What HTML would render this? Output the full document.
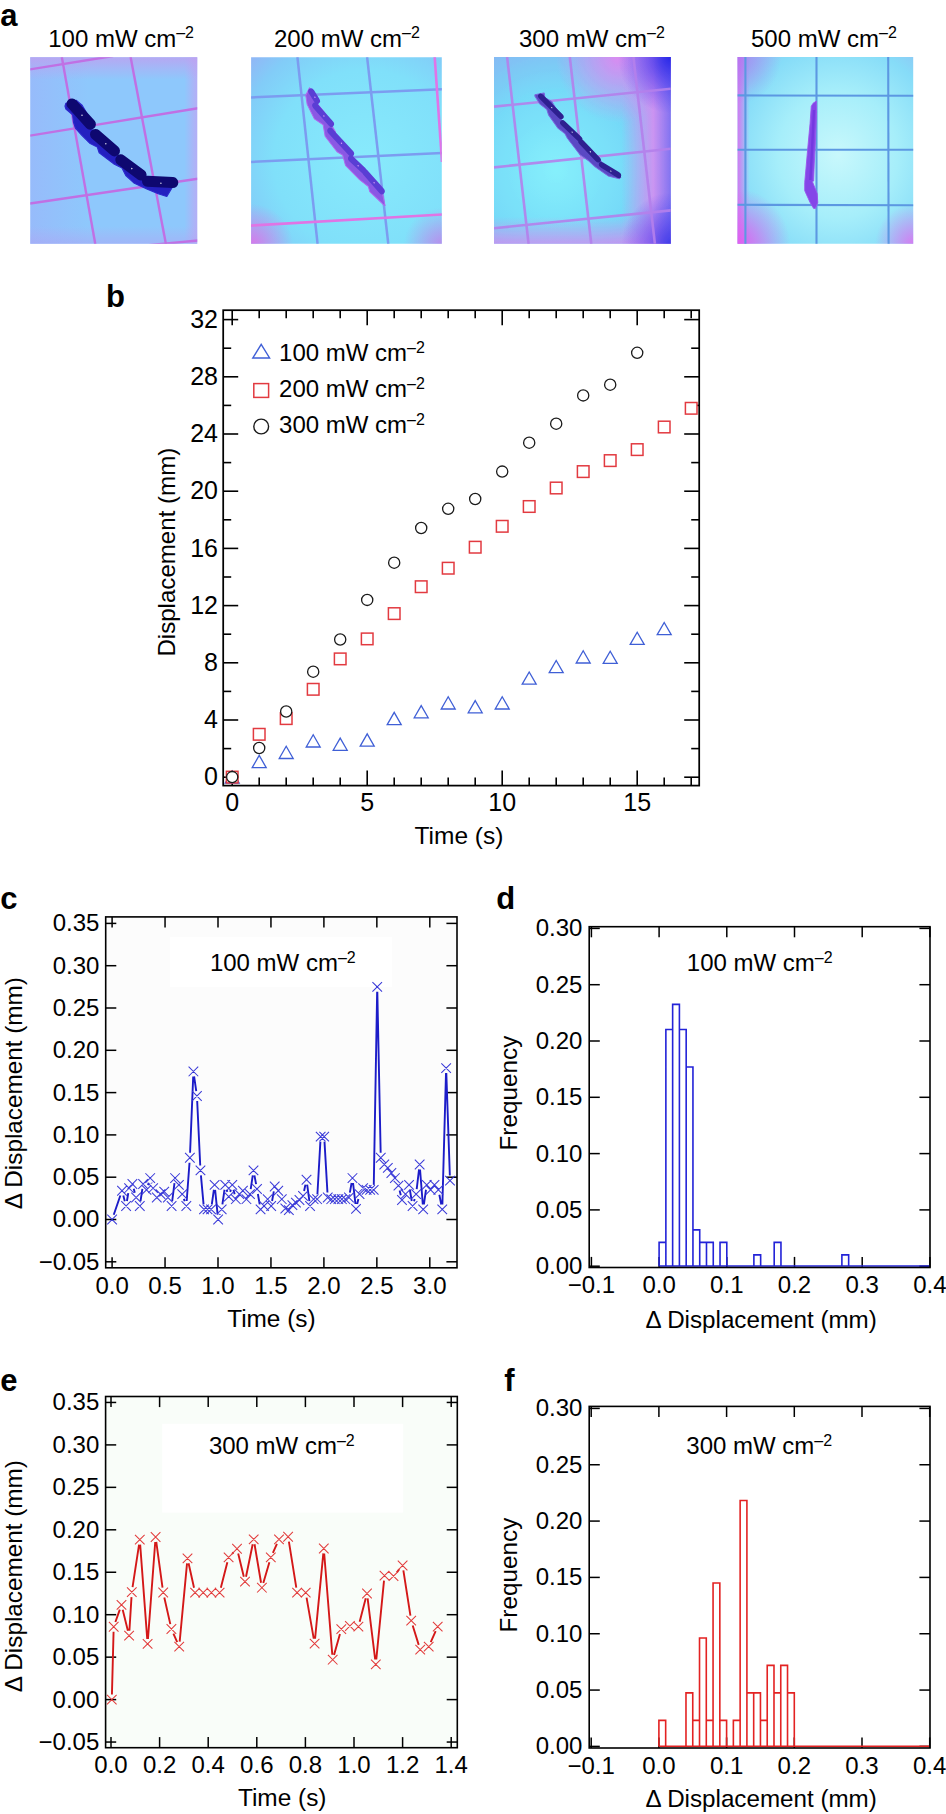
<!DOCTYPE html><html><head><meta charset="utf-8"><style>html,body{margin:0;padding:0;background:#fff;overflow:hidden;}svg{display:block;}text{font-family:"Liberation Sans",sans-serif;fill:#000;}</style></head><body>
<svg width="946" height="1814" viewBox="0 0 946 1814">
<rect width="946" height="1814" fill="#fff"/>
<defs>
<linearGradient id="p1l" x1="0" y1="0" x2="1" y2="0"><stop offset="0" stop-color="#a4a8f8" stop-opacity="0.4"/><stop offset="0.35" stop-color="#a4a8f8" stop-opacity="0"/><stop offset="0.92" stop-color="#c8a0f2" stop-opacity="0"/><stop offset="1" stop-color="#c8a0f2" stop-opacity="0.7"/></linearGradient>
<linearGradient id="p1t" x1="0" y1="0" x2="0" y2="1"><stop offset="0" stop-color="#c0a0f0" stop-opacity="0.8"/><stop offset="0.12" stop-color="#c0a0f0" stop-opacity="0"/><stop offset="0.9" stop-color="#c0a0f0" stop-opacity="0"/><stop offset="1" stop-color="#b0a0f4" stop-opacity="0.5"/></linearGradient>
<radialGradient id="p2b" cx="0.6" cy="0.55" r="0.8"><stop offset="0" stop-color="#88eafc"/><stop offset="0.6" stop-color="#80e0fa"/><stop offset="0.85" stop-color="#82ccf8"/><stop offset="1" stop-color="#90b8f6"/></radialGradient>
<radialGradient id="p2c" cx="0" cy="1" r="0.22"><stop offset="0" stop-color="#e070e8" stop-opacity="0.9"/><stop offset="1" stop-color="#e070e8" stop-opacity="0"/></radialGradient>
<radialGradient id="p2d" cx="1" cy="1" r="0.2"><stop offset="0" stop-color="#d070e8" stop-opacity="0.7"/><stop offset="1" stop-color="#d070e8" stop-opacity="0"/></radialGradient>
<radialGradient id="p3b" cx="0.35" cy="0.6" r="0.85"><stop offset="0" stop-color="#86f0fc"/><stop offset="0.5" stop-color="#76daf8"/><stop offset="0.8" stop-color="#84bcf4"/><stop offset="1" stop-color="#9caaf0"/></radialGradient><linearGradient id="p3bt" x1="0" y1="0" x2="0" y2="1"><stop offset="0.85" stop-color="#e080ee" stop-opacity="0"/><stop offset="1" stop-color="#e080ee" stop-opacity="0.7"/></linearGradient><radialGradient id="p3tp" cx="0.7" cy="0" r="0.35"><stop offset="0" stop-color="#e884f0" stop-opacity="0.85"/><stop offset="1" stop-color="#e884f0" stop-opacity="0"/></radialGradient>
<radialGradient id="p3c" cx="1" cy="0" r="0.3"><stop offset="0" stop-color="#2828e8" stop-opacity="1"/><stop offset="1" stop-color="#4040f0" stop-opacity="0"/></radialGradient>
<radialGradient id="p3d" cx="1" cy="1" r="0.28"><stop offset="0" stop-color="#3838e8" stop-opacity="0.9"/><stop offset="1" stop-color="#4040f0" stop-opacity="0"/></radialGradient>
<linearGradient id="p3t" x1="0" y1="0" x2="0" y2="1"><stop offset="0" stop-color="#e080f0" stop-opacity="0.6"/><stop offset="0.15" stop-color="#e080f0" stop-opacity="0"/></linearGradient><linearGradient id="p3r" x1="0" y1="0" x2="1" y2="0"><stop offset="0.72" stop-color="#e484f0" stop-opacity="0"/><stop offset="0.9" stop-color="#e484f0" stop-opacity="0.75"/><stop offset="1" stop-color="#8060f0" stop-opacity="0.8"/></linearGradient>
<radialGradient id="p4b" cx="0.57" cy="0.52" r="0.75"><stop offset="0" stop-color="#c8f8fc"/><stop offset="0.45" stop-color="#a6eefa"/><stop offset="0.78" stop-color="#86dcf8"/><stop offset="1" stop-color="#90c0f4"/></radialGradient>
<linearGradient id="p4l" x1="0" y1="0" x2="1" y2="0"><stop offset="0" stop-color="#d870f0" stop-opacity="0.95"/><stop offset="0.07" stop-color="#d870f0" stop-opacity="0"/></linearGradient>
<radialGradient id="p4c" cx="0" cy="1" r="0.3"><stop offset="0" stop-color="#e060f0" stop-opacity="1"/><stop offset="1" stop-color="#e060f0" stop-opacity="0"/></radialGradient>
<radialGradient id="p4d" cx="1" cy="1" r="0.22"><stop offset="0" stop-color="#e070f0" stop-opacity="0.9"/><stop offset="1" stop-color="#e070f0" stop-opacity="0"/></radialGradient>
<radialGradient id="p4e" cx="0" cy="0" r="0.25"><stop offset="0" stop-color="#b070f0" stop-opacity="0.7"/><stop offset="1" stop-color="#b070f0" stop-opacity="0"/></radialGradient>
<clipPath id="c1"><rect x="30.3" y="57.2" width="166.9" height="186.5"/></clipPath>
<clipPath id="c2"><rect x="251.1" y="57.3" width="190.7" height="186.4"/></clipPath>
<clipPath id="c3"><rect x="494" y="57" width="176.8" height="186.8"/></clipPath>
<clipPath id="c4"><rect x="737.6" y="57" width="175.6" height="186.8"/></clipPath>
</defs>
<g clip-path="url(#c1)">
<rect x="30" y="57" width="168" height="188" fill="#8ec8fc"/>
<rect x="30" y="57" width="168" height="188" fill="url(#p1l)"/>
<rect x="30" y="57" width="168" height="188" fill="url(#p1t)"/>
<g stroke="#c070e4" stroke-width="2.4" fill="none">
<line x1="61.8" y1="57" x2="95.3" y2="244"/>
<line x1="130.6" y1="57" x2="165.9" y2="244"/>
<line x1="30" y1="69.4" x2="113" y2="56"/>
<line x1="30" y1="135.6" x2="198" y2="108.2"/>
<line x1="30" y1="203.5" x2="198" y2="178.8"/>
<line x1="140" y1="246" x2="198" y2="240.5"/>
</g>
<path d="M65.9 103.3 L76.4 100.4 L82.1 105.2 L87.8 114.7 L93.5 124.2 L91.6 129.9 L98.3 131.8 L104.9 139.4 L114.4 148.9 L116.3 156.6 L123.9 157.5 L131.6 164.2 L141.1 171.8 L143.0 179.4 L150.6 179.4 L158.2 181.3 L175.3 181.3 L175.3 182.2 L166.8 196.5 L158.2 193.7 L146.8 188.9 L134.4 183.2 L125.8 175.6 L122.0 168.0 L114.4 164.2 L106.8 158.5 L99.2 152.7 L97.3 147.0 L89.7 143.2 L82.1 135.6 L75.4 128.0 L73.5 122.3 L72.6 114.7 L65.9 109.0 L65.0 106.1Z" fill="#2420c0" stroke="#2c28cc" stroke-width="1.2" stroke-linejoin="round"/><path d="M72.0 103.9L90.4 124.2M95.5 134.4L114.5 150.9M120.8 159.8L141.1 175.0M147.5 181.3L172.8 182.6" stroke="#0e0870" stroke-width="11" stroke-linecap="round" fill="none"/><circle cx="82.0" cy="115.2" r="0.8" fill="#ffffff" opacity="0.8"/><circle cx="105.8" cy="143.8" r="0.8" fill="#ffffff" opacity="0.8"/><circle cx="131.8" cy="168.6" r="0.8" fill="#ffffff" opacity="0.8"/><circle cx="160.9" cy="183.2" r="0.8" fill="#ffffff" opacity="0.8"/>
</g>
<g clip-path="url(#c2)">
<rect x="251" y="57" width="191" height="188" fill="url(#p2b)"/>
<rect x="251" y="57" width="191" height="188" fill="url(#p2c)"/>
<rect x="251" y="57" width="191" height="188" fill="url(#p2d)"/>
<g stroke="#7c9cf0" stroke-width="2.5" fill="none">
<line x1="297.4" y1="57" x2="317.6" y2="244"/>
<line x1="367.1" y1="57" x2="388.3" y2="244"/>
<line x1="251" y1="97.4" x2="442" y2="89.3"/>
<line x1="251" y1="162" x2="442" y2="152.9"/>
</g>
<line x1="251" y1="225.6" x2="442" y2="214.5" stroke="#e074e4" stroke-width="2.6"/>
<line x1="434.7" y1="57" x2="442" y2="162" stroke="#e074e8" stroke-width="2.6"/>
<g transform="translate(345 148) rotate(56.54049774660934) scale(1 0.8) rotate(-56.54049774660934) translate(-345 -148)"><path d="M305.0 95.9 L310.3 87.4 L317.7 94.8 L318.3 104.3 L324.6 111.7 L335.7 131.8 L335.2 137.6 L341.5 140.3 L356.3 160.3 L357.4 165.6 L363.7 167.7 L382.7 184.7 L385.4 205.3 L383.8 204.7 L369.0 192.0 L368.0 186.8 L358.4 180.4 L343.6 166.7 L341.5 156.1 L335.2 152.9 L323.0 137.6 L322.0 125.5 L312.4 120.2 L305.6 105.4Z" fill="#8a58e4" stroke="#b068ec" stroke-width="1.2" stroke-linejoin="round"/><path d="M312.1 91.5L317.3 99.9M315.2 106.3L331.1 123.2M330.0 131.7L351.2 152.8M351.2 159.1L363.9 169.7M366.0 171.8L382.9 189.8" stroke="#5a3ed4" stroke-width="7.5" stroke-linecap="round" fill="none"/><circle cx="315.5" cy="96.9" r="0.8" fill="#f0b0ff" opacity="0.8"/><circle cx="323.9" cy="116.0" r="0.8" fill="#f0b0ff" opacity="0.8"/><circle cx="341.4" cy="143.4" r="0.8" fill="#f0b0ff" opacity="0.8"/><circle cx="358.4" cy="165.6" r="0.8" fill="#f0b0ff" opacity="0.8"/><circle cx="375.2" cy="182.0" r="0.8" fill="#f0b0ff" opacity="0.8"/>
</g></g>
<g clip-path="url(#c3)">
<rect x="494" y="57" width="177" height="188" fill="url(#p3b)"/>
<rect x="494" y="57" width="177" height="188" fill="url(#p3tp)"/>
<rect x="494" y="57" width="177" height="188" fill="url(#p3bt)"/>
<rect x="494" y="57" width="177" height="188" fill="url(#p3r)"/>
<rect x="494" y="57" width="177" height="188" fill="url(#p3c)"/>
<rect x="494" y="57" width="177" height="188" fill="url(#p3d)"/>
<g stroke="#b480ec" stroke-width="2.6" fill="none" opacity="0.9">
<line x1="507.1" y1="57" x2="528.6" y2="244"/>
<line x1="569.8" y1="57" x2="591.3" y2="244"/>
<line x1="633.4" y1="57" x2="654.9" y2="244"/>
<line x1="494" y1="106.6" x2="671" y2="88.8"/>
<line x1="494" y1="167.4" x2="671" y2="148.7"/>
<line x1="494" y1="228.2" x2="671" y2="210.4"/>
</g>
<g transform="translate(578 135.5) rotate(44.7) scale(1 0.72) rotate(-44.7) translate(-578 -135.5)"><path d="M534.8 95.0 L545.9 91.3 L545.9 96.6 L553.3 99.8 L561.7 116.7 L560.7 123.1 L567.0 124.1 L580.7 142.1 L582.9 146.3 L589.2 147.4 L600.8 162.2 L602.9 168.5 L608.2 168.5 L620.9 177.0 L618.8 179.1 L606.1 178.0 L592.4 169.6 L585.0 163.2 L576.5 157.9 L564.9 141.0 L562.8 135.7 L555.4 130.5 L546.9 116.7 L545.9 110.4 L538.5 105.1 L534.2 96.6Z" fill="#5a48c4" stroke="#7a64dc" stroke-width="1.2" stroke-linejoin="round"/><path d="M541.8 96.5L560.8 115.5M562.9 124.0L578.8 138.8M580.9 143.0L596.7 159.9M601.0 166.3L617.9 174.7" stroke="#2e2090" stroke-width="7.5" stroke-linecap="round" fill="none"/><circle cx="552.1" cy="107.2" r="0.8" fill="#ffffff" opacity="0.8"/><circle cx="571.7" cy="132.6" r="0.8" fill="#ffffff" opacity="0.8"/><circle cx="589.6" cy="152.6" r="0.8" fill="#ffffff" opacity="0.8"/><circle cx="610.2" cy="171.7" r="0.8" fill="#ffffff" opacity="0.8"/>
</g></g>
<g clip-path="url(#c4)">
<rect x="737" y="57" width="177" height="188" fill="url(#p4b)"/>
<rect x="737" y="57" width="177" height="188" fill="url(#p4l)"/>
<rect x="737" y="57" width="177" height="188" fill="url(#p4c)"/>
<rect x="737" y="57" width="177" height="188" fill="url(#p4d)"/>
<rect x="737" y="57" width="177" height="188" fill="url(#p4e)"/>
<g stroke="#5c98e2" stroke-width="2.1" fill="none">
<line x1="745.4" y1="57" x2="745.4" y2="244"/>
<line x1="816.5" y1="57" x2="816.5" y2="244"/>
<line x1="888.2" y1="57" x2="888.6" y2="244"/>
<line x1="737" y1="95.4" x2="914" y2="95.8"/>
<line x1="737" y1="149.7" x2="914" y2="149.7"/>
<line x1="737" y1="204.8" x2="914" y2="205.2"/>
</g>
<g transform="translate(812 0) scale(0.8 1) translate(-812 0)"><path d="M817.4 101.1 L817.7 112.2 L816.3 141.8 L814.8 164.0 L814.0 181.0 L812.6 181.8 L818.5 193.6 L819.2 202.5 L816.3 208.4 L814.0 208.4 L809.6 202.5 L802.9 190.7 L802.9 182.5 L806.6 149.2 L809.6 123.3 L811.1 106.3 L813.3 103.3Z" fill="#8446e8" stroke="#9a56ec" stroke-width="1" stroke-linejoin="round"/><path d="M814.5 110L812 150L810 180" stroke="#7438e0" stroke-width="3" fill="none"/>
</g></g>
<text x="0.3" y="25.8" font-size="31" text-anchor="start" font-weight="bold" >a</text>
<text x="48.2" y="46.5" font-size="24" text-anchor="start">100 mW cm<tspan font-size="16" dy="-8.5">–2</tspan></text>
<text x="274" y="46.5" font-size="24" text-anchor="start">200 mW cm<tspan font-size="16" dy="-8.5">–2</tspan></text>
<text x="519" y="46.5" font-size="24" text-anchor="start">300 mW cm<tspan font-size="16" dy="-8.5">–2</tspan></text>
<text x="751" y="46.5" font-size="24" text-anchor="start">500 mW cm<tspan font-size="16" dy="-8.5">–2</tspan></text>
<text x="106" y="306.5" font-size="31" text-anchor="start" font-weight="bold" >b</text>
<line x1="232.2" y1="785.6" x2="232.2" y2="770.6" stroke="#000" stroke-width="1.6" />
<line x1="232.2" y1="310.2" x2="232.2" y2="325.2" stroke="#000" stroke-width="1.6" />
<line x1="259.2" y1="785.6" x2="259.2" y2="777.6" stroke="#000" stroke-width="1.6" />
<line x1="259.2" y1="310.2" x2="259.2" y2="318.2" stroke="#000" stroke-width="1.6" />
<line x1="286.2" y1="785.6" x2="286.2" y2="777.6" stroke="#000" stroke-width="1.6" />
<line x1="286.2" y1="310.2" x2="286.2" y2="318.2" stroke="#000" stroke-width="1.6" />
<line x1="313.2" y1="785.6" x2="313.2" y2="777.6" stroke="#000" stroke-width="1.6" />
<line x1="313.2" y1="310.2" x2="313.2" y2="318.2" stroke="#000" stroke-width="1.6" />
<line x1="340.2" y1="785.6" x2="340.2" y2="777.6" stroke="#000" stroke-width="1.6" />
<line x1="340.2" y1="310.2" x2="340.2" y2="318.2" stroke="#000" stroke-width="1.6" />
<line x1="367.2" y1="785.6" x2="367.2" y2="770.6" stroke="#000" stroke-width="1.6" />
<line x1="367.2" y1="310.2" x2="367.2" y2="325.2" stroke="#000" stroke-width="1.6" />
<line x1="394.2" y1="785.6" x2="394.2" y2="777.6" stroke="#000" stroke-width="1.6" />
<line x1="394.2" y1="310.2" x2="394.2" y2="318.2" stroke="#000" stroke-width="1.6" />
<line x1="421.2" y1="785.6" x2="421.2" y2="777.6" stroke="#000" stroke-width="1.6" />
<line x1="421.2" y1="310.2" x2="421.2" y2="318.2" stroke="#000" stroke-width="1.6" />
<line x1="448.2" y1="785.6" x2="448.2" y2="777.6" stroke="#000" stroke-width="1.6" />
<line x1="448.2" y1="310.2" x2="448.2" y2="318.2" stroke="#000" stroke-width="1.6" />
<line x1="475.2" y1="785.6" x2="475.2" y2="777.6" stroke="#000" stroke-width="1.6" />
<line x1="475.2" y1="310.2" x2="475.2" y2="318.2" stroke="#000" stroke-width="1.6" />
<line x1="502.2" y1="785.6" x2="502.2" y2="770.6" stroke="#000" stroke-width="1.6" />
<line x1="502.2" y1="310.2" x2="502.2" y2="325.2" stroke="#000" stroke-width="1.6" />
<line x1="529.2" y1="785.6" x2="529.2" y2="777.6" stroke="#000" stroke-width="1.6" />
<line x1="529.2" y1="310.2" x2="529.2" y2="318.2" stroke="#000" stroke-width="1.6" />
<line x1="556.2" y1="785.6" x2="556.2" y2="777.6" stroke="#000" stroke-width="1.6" />
<line x1="556.2" y1="310.2" x2="556.2" y2="318.2" stroke="#000" stroke-width="1.6" />
<line x1="583.2" y1="785.6" x2="583.2" y2="777.6" stroke="#000" stroke-width="1.6" />
<line x1="583.2" y1="310.2" x2="583.2" y2="318.2" stroke="#000" stroke-width="1.6" />
<line x1="610.2" y1="785.6" x2="610.2" y2="777.6" stroke="#000" stroke-width="1.6" />
<line x1="610.2" y1="310.2" x2="610.2" y2="318.2" stroke="#000" stroke-width="1.6" />
<line x1="637.2" y1="785.6" x2="637.2" y2="770.6" stroke="#000" stroke-width="1.6" />
<line x1="637.2" y1="310.2" x2="637.2" y2="325.2" stroke="#000" stroke-width="1.6" />
<line x1="664.2" y1="785.6" x2="664.2" y2="777.6" stroke="#000" stroke-width="1.6" />
<line x1="664.2" y1="310.2" x2="664.2" y2="318.2" stroke="#000" stroke-width="1.6" />
<line x1="691.2" y1="785.6" x2="691.2" y2="777.6" stroke="#000" stroke-width="1.6" />
<line x1="691.2" y1="310.2" x2="691.2" y2="318.2" stroke="#000" stroke-width="1.6" />
<line x1="223.2" y1="777.2" x2="238.2" y2="777.2" stroke="#000" stroke-width="1.6" />
<line x1="699.2" y1="777.2" x2="684.2" y2="777.2" stroke="#000" stroke-width="1.6" />
<line x1="223.2" y1="748.6" x2="231.2" y2="748.6" stroke="#000" stroke-width="1.6" />
<line x1="699.2" y1="748.6" x2="691.2" y2="748.6" stroke="#000" stroke-width="1.6" />
<line x1="223.2" y1="720" x2="238.2" y2="720" stroke="#000" stroke-width="1.6" />
<line x1="699.2" y1="720" x2="684.2" y2="720" stroke="#000" stroke-width="1.6" />
<line x1="223.2" y1="691.4" x2="231.2" y2="691.4" stroke="#000" stroke-width="1.6" />
<line x1="699.2" y1="691.4" x2="691.2" y2="691.4" stroke="#000" stroke-width="1.6" />
<line x1="223.2" y1="662.8" x2="238.2" y2="662.8" stroke="#000" stroke-width="1.6" />
<line x1="699.2" y1="662.8" x2="684.2" y2="662.8" stroke="#000" stroke-width="1.6" />
<line x1="223.2" y1="634.2" x2="231.2" y2="634.2" stroke="#000" stroke-width="1.6" />
<line x1="699.2" y1="634.2" x2="691.2" y2="634.2" stroke="#000" stroke-width="1.6" />
<line x1="223.2" y1="605.6" x2="238.2" y2="605.6" stroke="#000" stroke-width="1.6" />
<line x1="699.2" y1="605.6" x2="684.2" y2="605.6" stroke="#000" stroke-width="1.6" />
<line x1="223.2" y1="577" x2="231.2" y2="577" stroke="#000" stroke-width="1.6" />
<line x1="699.2" y1="577" x2="691.2" y2="577" stroke="#000" stroke-width="1.6" />
<line x1="223.2" y1="548.4" x2="238.2" y2="548.4" stroke="#000" stroke-width="1.6" />
<line x1="699.2" y1="548.4" x2="684.2" y2="548.4" stroke="#000" stroke-width="1.6" />
<line x1="223.2" y1="519.8" x2="231.2" y2="519.8" stroke="#000" stroke-width="1.6" />
<line x1="699.2" y1="519.8" x2="691.2" y2="519.8" stroke="#000" stroke-width="1.6" />
<line x1="223.2" y1="491.2" x2="238.2" y2="491.2" stroke="#000" stroke-width="1.6" />
<line x1="699.2" y1="491.2" x2="684.2" y2="491.2" stroke="#000" stroke-width="1.6" />
<line x1="223.2" y1="462.6" x2="231.2" y2="462.6" stroke="#000" stroke-width="1.6" />
<line x1="699.2" y1="462.6" x2="691.2" y2="462.6" stroke="#000" stroke-width="1.6" />
<line x1="223.2" y1="434" x2="238.2" y2="434" stroke="#000" stroke-width="1.6" />
<line x1="699.2" y1="434" x2="684.2" y2="434" stroke="#000" stroke-width="1.6" />
<line x1="223.2" y1="405.4" x2="231.2" y2="405.4" stroke="#000" stroke-width="1.6" />
<line x1="699.2" y1="405.4" x2="691.2" y2="405.4" stroke="#000" stroke-width="1.6" />
<line x1="223.2" y1="376.8" x2="238.2" y2="376.8" stroke="#000" stroke-width="1.6" />
<line x1="699.2" y1="376.8" x2="684.2" y2="376.8" stroke="#000" stroke-width="1.6" />
<line x1="223.2" y1="348.2" x2="231.2" y2="348.2" stroke="#000" stroke-width="1.6" />
<line x1="699.2" y1="348.2" x2="691.2" y2="348.2" stroke="#000" stroke-width="1.6" />
<line x1="223.2" y1="319.6" x2="238.2" y2="319.6" stroke="#000" stroke-width="1.6" />
<line x1="699.2" y1="319.6" x2="684.2" y2="319.6" stroke="#000" stroke-width="1.6" />
<rect x="223.2" y="310.2" width="476" height="475.4" fill="none" stroke="#000" stroke-width="1.75"/>
<text x="218" y="785.4" font-size="25" text-anchor="end" font-weight="normal" >0</text>
<text x="218" y="728.2" font-size="25" text-anchor="end" font-weight="normal" >4</text>
<text x="218" y="671" font-size="25" text-anchor="end" font-weight="normal" >8</text>
<text x="218" y="613.8" font-size="25" text-anchor="end" font-weight="normal" >12</text>
<text x="218" y="556.6" font-size="25" text-anchor="end" font-weight="normal" >16</text>
<text x="218" y="499.4" font-size="25" text-anchor="end" font-weight="normal" >20</text>
<text x="218" y="442.2" font-size="25" text-anchor="end" font-weight="normal" >24</text>
<text x="218" y="385" font-size="25" text-anchor="end" font-weight="normal" >28</text>
<text x="218" y="327.8" font-size="25" text-anchor="end" font-weight="normal" >32</text>
<text x="232.2" y="811.2" font-size="25" text-anchor="middle" font-weight="normal" >0</text>
<text x="367.2" y="811.2" font-size="25" text-anchor="middle" font-weight="normal" >5</text>
<text x="502.2" y="811.2" font-size="25" text-anchor="middle" font-weight="normal" >10</text>
<text x="637.2" y="811.2" font-size="25" text-anchor="middle" font-weight="normal" >15</text>
<text x="459" y="843.9" font-size="24.5" text-anchor="middle" font-weight="normal" >Time (s)</text>
<text transform="translate(175.1,552.2) rotate(-90)" font-size="24.1" text-anchor="middle">Displacement (mm)</text>
<path d="M232.2 771L239.2 783.2L225.2 783.2Z" fill="#fff" stroke="#3f5fd6" stroke-width="1.3" stroke-linejoin="miter"/>
<path d="M259.2 755.4L266.2 767.6L252.2 767.6Z" fill="#fff" stroke="#3f5fd6" stroke-width="1.3" stroke-linejoin="miter"/>
<path d="M286.2 746.3L293.2 758.5L279.2 758.5Z" fill="#fff" stroke="#3f5fd6" stroke-width="1.3" stroke-linejoin="miter"/>
<path d="M313.2 734.8L320.2 747L306.2 747Z" fill="#fff" stroke="#3f5fd6" stroke-width="1.3" stroke-linejoin="miter"/>
<path d="M340.2 738.1L347.2 750.3L333.2 750.3Z" fill="#fff" stroke="#3f5fd6" stroke-width="1.3" stroke-linejoin="miter"/>
<path d="M367.2 733.9L374.2 746.1L360.2 746.1Z" fill="#fff" stroke="#3f5fd6" stroke-width="1.3" stroke-linejoin="miter"/>
<path d="M394.2 712.4L401.2 724.6L387.2 724.6Z" fill="#fff" stroke="#3f5fd6" stroke-width="1.3" stroke-linejoin="miter"/>
<path d="M421.2 705.6L428.2 717.8L414.2 717.8Z" fill="#fff" stroke="#3f5fd6" stroke-width="1.3" stroke-linejoin="miter"/>
<path d="M448.2 696.8L455.2 709L441.2 709Z" fill="#fff" stroke="#3f5fd6" stroke-width="1.3" stroke-linejoin="miter"/>
<path d="M475.2 700.6L482.2 712.8L468.2 712.8Z" fill="#fff" stroke="#3f5fd6" stroke-width="1.3" stroke-linejoin="miter"/>
<path d="M502.2 696.8L509.2 709L495.2 709Z" fill="#fff" stroke="#3f5fd6" stroke-width="1.3" stroke-linejoin="miter"/>
<path d="M529.2 672L536.2 684.2L522.2 684.2Z" fill="#fff" stroke="#3f5fd6" stroke-width="1.3" stroke-linejoin="miter"/>
<path d="M556.2 660.5L563.2 672.7L549.2 672.7Z" fill="#fff" stroke="#3f5fd6" stroke-width="1.3" stroke-linejoin="miter"/>
<path d="M583.2 650.8L590.2 663L576.2 663Z" fill="#fff" stroke="#3f5fd6" stroke-width="1.3" stroke-linejoin="miter"/>
<path d="M610.2 651.2L617.2 663.4L603.2 663.4Z" fill="#fff" stroke="#3f5fd6" stroke-width="1.3" stroke-linejoin="miter"/>
<path d="M637.2 632.2L644.2 644.4L630.2 644.4Z" fill="#fff" stroke="#3f5fd6" stroke-width="1.3" stroke-linejoin="miter"/>
<path d="M664.2 622.5L671.2 634.7L657.2 634.7Z" fill="#fff" stroke="#3f5fd6" stroke-width="1.3" stroke-linejoin="miter"/>
<rect x="226.4" y="771.3" width="11.6" height="11.6" fill="#fff" stroke="#e23a40" stroke-width="1.5"/>
<rect x="253.4" y="728.5" width="11.6" height="11.6" fill="#fff" stroke="#e23a40" stroke-width="1.5"/>
<rect x="280.4" y="712.8" width="11.6" height="11.6" fill="#fff" stroke="#e23a40" stroke-width="1.5"/>
<rect x="307.4" y="683.5" width="11.6" height="11.6" fill="#fff" stroke="#e23a40" stroke-width="1.5"/>
<rect x="334.4" y="653.1" width="11.6" height="11.6" fill="#fff" stroke="#e23a40" stroke-width="1.5"/>
<rect x="361.4" y="633.1" width="11.6" height="11.6" fill="#fff" stroke="#e23a40" stroke-width="1.5"/>
<rect x="388.4" y="607.8" width="11.6" height="11.6" fill="#fff" stroke="#e23a40" stroke-width="1.5"/>
<rect x="415.4" y="580.9" width="11.6" height="11.6" fill="#fff" stroke="#e23a40" stroke-width="1.5"/>
<rect x="442.4" y="562.4" width="11.6" height="11.6" fill="#fff" stroke="#e23a40" stroke-width="1.5"/>
<rect x="469.4" y="541.4" width="11.6" height="11.6" fill="#fff" stroke="#e23a40" stroke-width="1.5"/>
<rect x="496.4" y="520.5" width="11.6" height="11.6" fill="#fff" stroke="#e23a40" stroke-width="1.5"/>
<rect x="523.4" y="500.7" width="11.6" height="11.6" fill="#fff" stroke="#e23a40" stroke-width="1.5"/>
<rect x="550.4" y="482.2" width="11.6" height="11.6" fill="#fff" stroke="#e23a40" stroke-width="1.5"/>
<rect x="577.4" y="465.8" width="11.6" height="11.6" fill="#fff" stroke="#e23a40" stroke-width="1.5"/>
<rect x="604.4" y="454.8" width="11.6" height="11.6" fill="#fff" stroke="#e23a40" stroke-width="1.5"/>
<rect x="631.4" y="443.8" width="11.6" height="11.6" fill="#fff" stroke="#e23a40" stroke-width="1.5"/>
<rect x="658.4" y="421.2" width="11.6" height="11.6" fill="#fff" stroke="#e23a40" stroke-width="1.5"/>
<rect x="685.4" y="402.5" width="11.6" height="11.6" fill="#fff" stroke="#e23a40" stroke-width="1.5"/>
<circle cx="232.2" cy="777.1" r="5.6" fill="#fff" stroke="#1a1a1a" stroke-width="1.3"/>
<circle cx="259.2" cy="748" r="5.6" fill="#fff" stroke="#1a1a1a" stroke-width="1.3"/>
<circle cx="286.2" cy="711.5" r="5.6" fill="#fff" stroke="#1a1a1a" stroke-width="1.3"/>
<circle cx="313.2" cy="671.7" r="5.6" fill="#fff" stroke="#1a1a1a" stroke-width="1.3"/>
<circle cx="340.2" cy="639.5" r="5.6" fill="#fff" stroke="#1a1a1a" stroke-width="1.3"/>
<circle cx="367.2" cy="599.9" r="5.6" fill="#fff" stroke="#1a1a1a" stroke-width="1.3"/>
<circle cx="394.2" cy="562.7" r="5.6" fill="#fff" stroke="#1a1a1a" stroke-width="1.3"/>
<circle cx="421.2" cy="528" r="5.6" fill="#fff" stroke="#1a1a1a" stroke-width="1.3"/>
<circle cx="448.2" cy="508.8" r="5.6" fill="#fff" stroke="#1a1a1a" stroke-width="1.3"/>
<circle cx="475.2" cy="499" r="5.6" fill="#fff" stroke="#1a1a1a" stroke-width="1.3"/>
<circle cx="502.2" cy="471.6" r="5.6" fill="#fff" stroke="#1a1a1a" stroke-width="1.3"/>
<circle cx="529.2" cy="442.7" r="5.6" fill="#fff" stroke="#1a1a1a" stroke-width="1.3"/>
<circle cx="556.2" cy="423.7" r="5.6" fill="#fff" stroke="#1a1a1a" stroke-width="1.3"/>
<circle cx="583.2" cy="395.4" r="5.6" fill="#fff" stroke="#1a1a1a" stroke-width="1.3"/>
<circle cx="610.2" cy="384.7" r="5.6" fill="#fff" stroke="#1a1a1a" stroke-width="1.3"/>
<circle cx="637.2" cy="352.8" r="5.6" fill="#fff" stroke="#1a1a1a" stroke-width="1.3"/>
<path d="M261.2 344.4L269.6 358L252.8 358Z" fill="none" stroke="#3f5fd6" stroke-width="1.4"/>
<rect x="253.8" y="383.6" width="14.8" height="13.8" fill="none" stroke="#e23a40" stroke-width="1.5"/>
<circle cx="261.2" cy="426.5" r="7.4" fill="none" stroke="#1a1a1a" stroke-width="1.4"/>
<text x="279.1" y="361.3" font-size="24" text-anchor="start">100 mW cm<tspan font-size="16" dy="-8.5">–2</tspan></text>
<text x="279.1" y="397.2" font-size="24" text-anchor="start">200 mW cm<tspan font-size="16" dy="-8.5">–2</tspan></text>
<text x="279.1" y="433" font-size="24" text-anchor="start">300 mW cm<tspan font-size="16" dy="-8.5">–2</tspan></text>
<rect x="105.7" y="916.9" width="351.3" height="350.9" fill="#fcfcfc"/>
<rect x="170" y="937" width="222" height="50" fill="#fff"/>
<text x="209.9" y="971.2" font-size="24" text-anchor="start">100 mW cm<tspan font-size="16" dy="-8.5">–2</tspan></text>
<line x1="112.1" y1="1267.8" x2="112.1" y2="1257.2" stroke="#000" stroke-width="1.5" />
<line x1="112.1" y1="916.9" x2="112.1" y2="927.5" stroke="#000" stroke-width="1.5" />
<line x1="165.05" y1="1267.8" x2="165.05" y2="1257.2" stroke="#000" stroke-width="1.5" />
<line x1="165.05" y1="916.9" x2="165.05" y2="927.5" stroke="#000" stroke-width="1.5" />
<line x1="218" y1="1267.8" x2="218" y2="1257.2" stroke="#000" stroke-width="1.5" />
<line x1="218" y1="916.9" x2="218" y2="927.5" stroke="#000" stroke-width="1.5" />
<line x1="270.95" y1="1267.8" x2="270.95" y2="1257.2" stroke="#000" stroke-width="1.5" />
<line x1="270.95" y1="916.9" x2="270.95" y2="927.5" stroke="#000" stroke-width="1.5" />
<line x1="323.9" y1="1267.8" x2="323.9" y2="1257.2" stroke="#000" stroke-width="1.5" />
<line x1="323.9" y1="916.9" x2="323.9" y2="927.5" stroke="#000" stroke-width="1.5" />
<line x1="376.85" y1="1267.8" x2="376.85" y2="1257.2" stroke="#000" stroke-width="1.5" />
<line x1="376.85" y1="916.9" x2="376.85" y2="927.5" stroke="#000" stroke-width="1.5" />
<line x1="429.8" y1="1267.8" x2="429.8" y2="1257.2" stroke="#000" stroke-width="1.5" />
<line x1="429.8" y1="916.9" x2="429.8" y2="927.5" stroke="#000" stroke-width="1.5" />
<line x1="105.7" y1="1261.8" x2="116.3" y2="1261.8" stroke="#000" stroke-width="1.5" />
<line x1="457" y1="1261.8" x2="446.4" y2="1261.8" stroke="#000" stroke-width="1.5" />
<line x1="105.7" y1="1219.5" x2="116.3" y2="1219.5" stroke="#000" stroke-width="1.5" />
<line x1="457" y1="1219.5" x2="446.4" y2="1219.5" stroke="#000" stroke-width="1.5" />
<line x1="105.7" y1="1177.2" x2="116.3" y2="1177.2" stroke="#000" stroke-width="1.5" />
<line x1="457" y1="1177.2" x2="446.4" y2="1177.2" stroke="#000" stroke-width="1.5" />
<line x1="105.7" y1="1134.9" x2="116.3" y2="1134.9" stroke="#000" stroke-width="1.5" />
<line x1="457" y1="1134.9" x2="446.4" y2="1134.9" stroke="#000" stroke-width="1.5" />
<line x1="105.7" y1="1092.6" x2="116.3" y2="1092.6" stroke="#000" stroke-width="1.5" />
<line x1="457" y1="1092.6" x2="446.4" y2="1092.6" stroke="#000" stroke-width="1.5" />
<line x1="105.7" y1="1050.3" x2="116.3" y2="1050.3" stroke="#000" stroke-width="1.5" />
<line x1="457" y1="1050.3" x2="446.4" y2="1050.3" stroke="#000" stroke-width="1.5" />
<line x1="105.7" y1="1008" x2="116.3" y2="1008" stroke="#000" stroke-width="1.5" />
<line x1="457" y1="1008" x2="446.4" y2="1008" stroke="#000" stroke-width="1.5" />
<line x1="105.7" y1="965.7" x2="116.3" y2="965.7" stroke="#000" stroke-width="1.5" />
<line x1="457" y1="965.7" x2="446.4" y2="965.7" stroke="#000" stroke-width="1.5" />
<line x1="105.7" y1="923.4" x2="116.3" y2="923.4" stroke="#000" stroke-width="1.5" />
<line x1="457" y1="923.4" x2="446.4" y2="923.4" stroke="#000" stroke-width="1.5" />
<path d="M113.73 1214.77L120.37 1195.46M123.3 1195.56L124.8 1201.14M126.93 1201.03L128.27 1193.13M133.72 1188.79L134.78 1192.68M140.54 1201.02L142.36 1188.91M147.99 1185.12L148.71 1182.82M151.57 1182.85L151.73 1183.39M172.22 1201L174.48 1183.01M183.85 1198.84L184.69 1201.24M186.7 1200.98L189.5 1162.73M190.07 1152.75L193.2 1076.45M194.12 1076.4L196.23 1091.04M197.18 1100.98L200.24 1165.44M200.93 1175.41L203.56 1204.37M211.79 1204.4L213.9 1189.76M215.12 1189.79L217.64 1214.53M219.79 1214.78L220.04 1214.07M222.4 1204.4L224.51 1189.76M226.65 1189.61L227.33 1191.87M230.18 1191.87L230.86 1189.61M233.48 1189.67L234.63 1194.34M250.7 1189.17L252.76 1175.38M254.43 1175.34L256.1 1184.13M257.89 1193.97L259.71 1204.42M272.07 1201.04L273.82 1191.43M304.06 1190.93L305.45 1184.62M307.19 1184.69L309.39 1201.01M317.41 1194.2L320.38 1141.58M324.49 1141.58L327.45 1192.51M349.84 1192.58L351.59 1182.97M353.05 1183.01L355.45 1203.96M357.18 1204.06L358.39 1198.98M373.78 1184.89L377.14 991.85M377.33 991.85L380.66 1152.74M399.63 1190.52L400.78 1195.19M409.86 1189.75L411.75 1201.03M414 1201.17L414.68 1198.91M416.7 1189.16L419.05 1169.47M420.04 1169.49L422.79 1204.36M423.89 1204.4L426 1189.76M439.35 1194.79L441.28 1204.44M442.39 1204.35L446 1073.06M446.31 1073.06L449.85 1175.59" fill="none" stroke="#1c1cc8" stroke-width="1.9" stroke-linecap="butt"/>
<path d="M107.3 1214.7L116.9 1224.3M107.3 1224.3L116.9 1214.7M117.2 1185.94L126.8 1195.54M117.2 1195.54L126.8 1185.94M121.3 1201.16L130.9 1210.76M121.3 1210.76L130.9 1201.16M124.3 1183.4L133.9 1193M124.3 1193L133.9 1183.4M127.6 1179.17L137.2 1188.77M127.6 1188.77L137.2 1179.17M131.3 1192.7L140.9 1202.3M131.3 1202.3L140.9 1192.7M135 1201.16L144.6 1210.76M135 1210.76L144.6 1201.16M138.3 1179.17L147.9 1188.77M138.3 1188.77L147.9 1179.17M141.7 1185.09L151.3 1194.69M141.7 1194.69L151.3 1185.09M145.4 1173.25L155 1182.85M145.4 1182.85L155 1173.25M148.3 1183.4L157.9 1193M148.3 1193L157.9 1183.4M152 1192.7L161.6 1202.3M152 1202.3L161.6 1192.7M155.7 1189.32L165.3 1198.92M155.7 1198.92L165.3 1189.32M159.4 1186.78L169 1196.38M159.4 1196.38L169 1186.78M163.1 1192.7L172.7 1202.3M163.1 1202.3L172.7 1192.7M166.8 1201.16L176.4 1210.76M166.8 1210.76L176.4 1201.16M170.3 1173.25L179.9 1182.85M170.3 1182.85L179.9 1173.25M174.1 1180.01L183.7 1189.61M174.1 1189.61L183.7 1180.01M177.4 1189.32L187 1198.92M177.4 1198.92L187 1189.32M181.53 1201.16L191.13 1210.76M181.53 1210.76L191.13 1201.16M185.07 1152.94L194.67 1162.54M185.07 1162.54L194.67 1152.94M188.6 1066.65L198.21 1076.25M188.6 1076.25L198.21 1066.65M192.14 1091.18L201.74 1100.78M192.14 1100.78L201.74 1091.18M195.67 1165.63L205.28 1175.23M195.67 1175.23L205.28 1165.63M199.21 1204.55L208.81 1214.15M199.21 1214.15L208.81 1204.55M202.75 1204.55L212.35 1214.15M202.75 1214.15L212.35 1204.55M206.28 1204.55L215.88 1214.15M206.28 1214.15L215.88 1204.55M209.81 1180.01L219.42 1189.61M209.81 1189.61L219.42 1180.01M213.35 1214.7L222.95 1224.3M213.35 1224.3L222.95 1214.7M216.88 1204.55L226.49 1214.15M216.88 1214.15L226.49 1204.55M220.42 1180.01L230.02 1189.61M220.42 1189.61L230.02 1180.01M223.95 1191.86L233.56 1201.46M223.95 1201.46L233.56 1191.86M227.49 1180.01L237.09 1189.61M227.49 1189.61L237.09 1180.01M231.02 1194.4L240.62 1204M231.02 1204L240.62 1194.4M234.56 1189.32L244.16 1198.92M234.56 1198.92L244.16 1189.32M238.09 1185.94L247.7 1195.54M238.09 1195.54L247.7 1185.94M241.63 1194.4L251.23 1204M241.63 1204L251.23 1194.4M245.16 1189.32L254.77 1198.92M245.16 1198.92L254.77 1189.32M248.7 1165.63L258.3 1175.23M248.7 1175.23L258.3 1165.63M252.23 1184.24L261.83 1193.84M252.23 1193.84L261.83 1184.24M255.77 1204.55L265.37 1214.15M255.77 1214.15L265.37 1204.55M259.31 1201.16L268.91 1210.76M259.31 1210.76L268.91 1201.16M262.84 1194.4L272.44 1204M262.84 1204L272.44 1194.4M266.38 1201.16L275.98 1210.76M266.38 1210.76L275.98 1201.16M269.91 1181.71L279.51 1191.31M269.91 1191.31L279.51 1181.71M273.44 1185.94L283.05 1195.54M273.44 1195.54L283.05 1185.94M276.98 1194.4L286.58 1204M276.98 1204L286.58 1194.4M280.51 1203.7L290.12 1213.3M280.51 1213.3L290.12 1203.7M284.05 1205.39L293.65 1214.99M284.05 1214.99L293.65 1205.39M287.58 1200.32L297.19 1209.92M287.58 1209.92L297.19 1200.32M291.12 1197.78L300.72 1207.38M291.12 1207.38L300.72 1197.78M294.66 1195.24L304.26 1204.84M294.66 1204.84L304.26 1195.24M298.19 1191.01L307.79 1200.61M298.19 1200.61L307.79 1191.01M301.72 1174.94L311.32 1184.54M301.72 1184.54L311.32 1174.94M305.26 1201.16L314.86 1210.76M305.26 1210.76L314.86 1201.16M308.8 1194.4L318.4 1204M308.8 1204L318.4 1194.4M312.33 1194.4L321.93 1204M312.33 1204L321.93 1194.4M315.86 1131.79L325.46 1141.39M315.86 1141.39L325.46 1131.79M319.4 1131.79L329 1141.39M319.4 1141.39L329 1131.79M322.94 1192.7L332.54 1202.3M322.94 1202.3L332.54 1192.7M326.47 1194.4L336.07 1204M326.47 1204L336.07 1194.4M330 1194.4L339.61 1204M330 1204L339.61 1194.4M333.54 1194.4L343.14 1204M333.54 1204L343.14 1194.4M337.07 1194.4L346.68 1204M337.07 1204L346.68 1194.4M340.61 1194.4L350.21 1204M340.61 1204L350.21 1194.4M344.14 1192.7L353.75 1202.3M344.14 1202.3L353.75 1192.7M347.68 1173.25L357.28 1182.85M347.68 1182.85L357.28 1173.25M351.21 1204.12L360.81 1213.72M351.21 1213.72L360.81 1204.12M354.75 1189.32L364.35 1198.92M354.75 1198.92L364.35 1189.32M358.29 1183.4L367.89 1193M358.29 1193L367.89 1183.4M361.82 1185.09L371.42 1194.69M361.82 1194.69L371.42 1185.09M365.35 1185.09L374.95 1194.69M365.35 1194.69L374.95 1185.09M368.89 1185.09L378.49 1194.69M368.89 1194.69L378.49 1185.09M372.43 982.05L382.03 991.65M372.43 991.65L382.03 982.05M375.96 1152.94L385.56 1162.54M375.96 1162.54L385.56 1152.94M379.49 1159.71L389.09 1169.31M379.49 1169.31L389.09 1159.71M383.03 1163.09L392.63 1172.69M383.03 1172.69L392.63 1163.09M386.56 1168.17L396.17 1177.77M386.56 1177.77L396.17 1168.17M390.1 1173.25L399.7 1182.85M390.1 1182.85L399.7 1173.25M393.64 1180.86L403.24 1190.46M393.64 1190.46L403.24 1180.86M397.17 1195.24L406.77 1204.84M397.17 1204.84L406.77 1195.24M400.7 1189.32L410.31 1198.92M400.7 1198.92L410.31 1189.32M404.24 1180.01L413.84 1189.61M404.24 1189.61L413.84 1180.01M407.78 1201.16L417.38 1210.76M407.78 1210.76L417.38 1201.16M411.31 1189.32L420.91 1198.92M411.31 1198.92L420.91 1189.32M414.84 1159.71L424.44 1169.31M414.84 1169.31L424.44 1159.71M418.38 1204.55L427.98 1214.15M418.38 1214.15L427.98 1204.55M421.92 1180.01L431.52 1189.61M421.92 1189.61L431.52 1180.01M425.8 1185.09L435.4 1194.69M425.8 1194.69L435.4 1185.09M429.68 1180.01L439.28 1189.61M429.68 1189.61L439.28 1180.01M433.57 1185.09L443.17 1194.69M433.57 1194.69L443.17 1185.09M437.45 1204.55L447.06 1214.15M437.45 1214.15L447.06 1204.55M441.34 1063.27L450.94 1072.87M441.34 1072.87L450.94 1063.27M445.22 1175.78L454.82 1185.38M445.22 1185.38L454.82 1175.78" fill="none" stroke="#3a3ad8" stroke-width="1.05"/>
<rect x="105.7" y="916.9" width="351.3" height="350.9" fill="none" stroke="#000" stroke-width="1.6"/>
<text x="99.4" y="1269.7" font-size="24" text-anchor="end" font-weight="normal" >−0.05</text>
<text x="99.4" y="1227.4" font-size="24" text-anchor="end" font-weight="normal" >0.00</text>
<text x="99.4" y="1185.1" font-size="24" text-anchor="end" font-weight="normal" >0.05</text>
<text x="99.4" y="1142.8" font-size="24" text-anchor="end" font-weight="normal" >0.10</text>
<text x="99.4" y="1100.5" font-size="24" text-anchor="end" font-weight="normal" >0.15</text>
<text x="99.4" y="1058.2" font-size="24" text-anchor="end" font-weight="normal" >0.20</text>
<text x="99.4" y="1015.9" font-size="24" text-anchor="end" font-weight="normal" >0.25</text>
<text x="99.4" y="973.6" font-size="24" text-anchor="end" font-weight="normal" >0.30</text>
<text x="99.4" y="931.3" font-size="24" text-anchor="end" font-weight="normal" >0.35</text>
<text x="112.1" y="1293.5" font-size="24" text-anchor="middle" font-weight="normal" >0.0</text>
<text x="165.05" y="1293.5" font-size="24" text-anchor="middle" font-weight="normal" >0.5</text>
<text x="218" y="1293.5" font-size="24" text-anchor="middle" font-weight="normal" >1.0</text>
<text x="270.95" y="1293.5" font-size="24" text-anchor="middle" font-weight="normal" >1.5</text>
<text x="323.9" y="1293.5" font-size="24" text-anchor="middle" font-weight="normal" >2.0</text>
<text x="376.85" y="1293.5" font-size="24" text-anchor="middle" font-weight="normal" >2.5</text>
<text x="429.8" y="1293.5" font-size="24" text-anchor="middle" font-weight="normal" >3.0</text>
<text x="271.4" y="1327.4" font-size="24.4" text-anchor="middle" font-weight="normal" >Time (s)</text>
<text transform="translate(21.6,1093.2) rotate(-90)" font-size="24.3" text-anchor="middle">Δ Displacement (mm)</text>
<text x="0.3" y="909.3" font-size="31" text-anchor="start" font-weight="bold" >c</text>
<line x1="591.4" y1="1267.5" x2="591.4" y2="1256.9" stroke="#000" stroke-width="1.5" />
<line x1="591.4" y1="926.7" x2="591.4" y2="937.3" stroke="#000" stroke-width="1.5" />
<line x1="659.1" y1="1267.5" x2="659.1" y2="1256.9" stroke="#000" stroke-width="1.5" />
<line x1="659.1" y1="926.7" x2="659.1" y2="937.3" stroke="#000" stroke-width="1.5" />
<line x1="726.8" y1="1267.5" x2="726.8" y2="1256.9" stroke="#000" stroke-width="1.5" />
<line x1="726.8" y1="926.7" x2="726.8" y2="937.3" stroke="#000" stroke-width="1.5" />
<line x1="794.5" y1="1267.5" x2="794.5" y2="1256.9" stroke="#000" stroke-width="1.5" />
<line x1="794.5" y1="926.7" x2="794.5" y2="937.3" stroke="#000" stroke-width="1.5" />
<line x1="862.2" y1="1267.5" x2="862.2" y2="1256.9" stroke="#000" stroke-width="1.5" />
<line x1="862.2" y1="926.7" x2="862.2" y2="937.3" stroke="#000" stroke-width="1.5" />
<line x1="929.9" y1="1267.5" x2="929.9" y2="1256.9" stroke="#000" stroke-width="1.5" />
<line x1="929.9" y1="926.7" x2="929.9" y2="937.3" stroke="#000" stroke-width="1.5" />
<line x1="589.2" y1="1266.2" x2="599.8" y2="1266.2" stroke="#000" stroke-width="1.5" />
<line x1="930" y1="1266.2" x2="919.4" y2="1266.2" stroke="#000" stroke-width="1.5" />
<line x1="589.2" y1="1209.9" x2="599.8" y2="1209.9" stroke="#000" stroke-width="1.5" />
<line x1="930" y1="1209.9" x2="919.4" y2="1209.9" stroke="#000" stroke-width="1.5" />
<line x1="589.2" y1="1153.6" x2="599.8" y2="1153.6" stroke="#000" stroke-width="1.5" />
<line x1="930" y1="1153.6" x2="919.4" y2="1153.6" stroke="#000" stroke-width="1.5" />
<line x1="589.2" y1="1097.3" x2="599.8" y2="1097.3" stroke="#000" stroke-width="1.5" />
<line x1="930" y1="1097.3" x2="919.4" y2="1097.3" stroke="#000" stroke-width="1.5" />
<line x1="589.2" y1="1041" x2="599.8" y2="1041" stroke="#000" stroke-width="1.5" />
<line x1="930" y1="1041" x2="919.4" y2="1041" stroke="#000" stroke-width="1.5" />
<line x1="589.2" y1="984.7" x2="599.8" y2="984.7" stroke="#000" stroke-width="1.5" />
<line x1="930" y1="984.7" x2="919.4" y2="984.7" stroke="#000" stroke-width="1.5" />
<line x1="589.2" y1="928.4" x2="599.8" y2="928.4" stroke="#000" stroke-width="1.5" />
<line x1="930" y1="928.4" x2="919.4" y2="928.4" stroke="#000" stroke-width="1.5" />
<path d="M659.1 1266V1242.35H665.87V1266M665.87 1266V1029.44H672.64V1266M672.64 1266V1004.39H679.41V1266M679.41 1266V1029.44H686.18V1266M686.18 1266V1067.01H692.95V1266M692.95 1266V1229.83H699.72V1266M699.72 1266V1242.35H706.49V1266M706.49 1266V1242.35H713.26V1266M720.03 1266V1242.35H726.8V1266M753.88 1266V1254.88H760.65V1266M774.19 1266V1242.35H780.96V1266M841.89 1266V1254.88H848.66V1266" fill="none" stroke="#2323d8" stroke-width="1.6"/>
<line x1="659.1" y1="1266" x2="929.9" y2="1266" stroke="#2323d8" stroke-width="1.6" />
<rect x="589.2" y="926.7" width="340.8" height="340.8" fill="none" stroke="#000" stroke-width="1.6"/>
<text x="582.4" y="1274.1" font-size="24" text-anchor="end" font-weight="normal" >0.00</text>
<text x="582.4" y="1217.8" font-size="24" text-anchor="end" font-weight="normal" >0.05</text>
<text x="582.4" y="1161.5" font-size="24" text-anchor="end" font-weight="normal" >0.10</text>
<text x="582.4" y="1105.2" font-size="24" text-anchor="end" font-weight="normal" >0.15</text>
<text x="582.4" y="1048.9" font-size="24" text-anchor="end" font-weight="normal" >0.20</text>
<text x="582.4" y="992.6" font-size="24" text-anchor="end" font-weight="normal" >0.25</text>
<text x="582.4" y="936.3" font-size="24" text-anchor="end" font-weight="normal" >0.30</text>
<text x="591.4" y="1293.2" font-size="24" text-anchor="middle" font-weight="normal" >−0.1</text>
<text x="659.1" y="1293.2" font-size="24" text-anchor="middle" font-weight="normal" >0.0</text>
<text x="726.8" y="1293.2" font-size="24" text-anchor="middle" font-weight="normal" >0.1</text>
<text x="794.5" y="1293.2" font-size="24" text-anchor="middle" font-weight="normal" >0.2</text>
<text x="862.2" y="1293.2" font-size="24" text-anchor="middle" font-weight="normal" >0.3</text>
<text x="929.9" y="1293.2" font-size="24" text-anchor="middle" font-weight="normal" >0.4</text>
<text x="761.2" y="1328.3" font-size="24.2" text-anchor="middle" font-weight="normal" >Δ Displacement (mm)</text>
<text transform="translate(516.9,1093.1) rotate(-90)" font-size="24.3" text-anchor="middle">Frequency</text>
<text x="686.8" y="971.1" font-size="24" text-anchor="start">100 mW cm<tspan font-size="16" dy="-8.5">–2</tspan></text>
<text x="496.3" y="908.8" font-size="31" text-anchor="start" font-weight="bold" >d</text>
<rect x="105.6" y="1396.5" width="351.7" height="351.2" fill="#f9fdf9"/>
<rect x="162.2" y="1423.8" width="241" height="88.8" fill="#fff"/>
<text x="208.9" y="1454.3" font-size="24" text-anchor="start">300 mW cm<tspan font-size="16" dy="-8.5">–2</tspan></text>
<line x1="111" y1="1747.7" x2="111" y2="1737.1" stroke="#000" stroke-width="1.5" />
<line x1="111" y1="1396.5" x2="111" y2="1407.1" stroke="#000" stroke-width="1.5" />
<line x1="159.6" y1="1747.7" x2="159.6" y2="1737.1" stroke="#000" stroke-width="1.5" />
<line x1="159.6" y1="1396.5" x2="159.6" y2="1407.1" stroke="#000" stroke-width="1.5" />
<line x1="208.2" y1="1747.7" x2="208.2" y2="1737.1" stroke="#000" stroke-width="1.5" />
<line x1="208.2" y1="1396.5" x2="208.2" y2="1407.1" stroke="#000" stroke-width="1.5" />
<line x1="256.8" y1="1747.7" x2="256.8" y2="1737.1" stroke="#000" stroke-width="1.5" />
<line x1="256.8" y1="1396.5" x2="256.8" y2="1407.1" stroke="#000" stroke-width="1.5" />
<line x1="305.4" y1="1747.7" x2="305.4" y2="1737.1" stroke="#000" stroke-width="1.5" />
<line x1="305.4" y1="1396.5" x2="305.4" y2="1407.1" stroke="#000" stroke-width="1.5" />
<line x1="354" y1="1747.7" x2="354" y2="1737.1" stroke="#000" stroke-width="1.5" />
<line x1="354" y1="1396.5" x2="354" y2="1407.1" stroke="#000" stroke-width="1.5" />
<line x1="402.6" y1="1747.7" x2="402.6" y2="1737.1" stroke="#000" stroke-width="1.5" />
<line x1="402.6" y1="1396.5" x2="402.6" y2="1407.1" stroke="#000" stroke-width="1.5" />
<line x1="451.2" y1="1747.7" x2="451.2" y2="1737.1" stroke="#000" stroke-width="1.5" />
<line x1="451.2" y1="1396.5" x2="451.2" y2="1407.1" stroke="#000" stroke-width="1.5" />
<line x1="105.6" y1="1742.05" x2="116.2" y2="1742.05" stroke="#000" stroke-width="1.5" />
<line x1="457.3" y1="1742.05" x2="446.7" y2="1742.05" stroke="#000" stroke-width="1.5" />
<line x1="105.6" y1="1699.6" x2="116.2" y2="1699.6" stroke="#000" stroke-width="1.5" />
<line x1="457.3" y1="1699.6" x2="446.7" y2="1699.6" stroke="#000" stroke-width="1.5" />
<line x1="105.6" y1="1657.15" x2="116.2" y2="1657.15" stroke="#000" stroke-width="1.5" />
<line x1="457.3" y1="1657.15" x2="446.7" y2="1657.15" stroke="#000" stroke-width="1.5" />
<line x1="105.6" y1="1614.7" x2="116.2" y2="1614.7" stroke="#000" stroke-width="1.5" />
<line x1="457.3" y1="1614.7" x2="446.7" y2="1614.7" stroke="#000" stroke-width="1.5" />
<line x1="105.6" y1="1572.25" x2="116.2" y2="1572.25" stroke="#000" stroke-width="1.5" />
<line x1="457.3" y1="1572.25" x2="446.7" y2="1572.25" stroke="#000" stroke-width="1.5" />
<line x1="105.6" y1="1529.8" x2="116.2" y2="1529.8" stroke="#000" stroke-width="1.5" />
<line x1="457.3" y1="1529.8" x2="446.7" y2="1529.8" stroke="#000" stroke-width="1.5" />
<line x1="105.6" y1="1487.35" x2="116.2" y2="1487.35" stroke="#000" stroke-width="1.5" />
<line x1="457.3" y1="1487.35" x2="446.7" y2="1487.35" stroke="#000" stroke-width="1.5" />
<line x1="105.6" y1="1444.9" x2="116.2" y2="1444.9" stroke="#000" stroke-width="1.5" />
<line x1="457.3" y1="1444.9" x2="446.7" y2="1444.9" stroke="#000" stroke-width="1.5" />
<line x1="105.6" y1="1402.45" x2="116.2" y2="1402.45" stroke="#000" stroke-width="1.5" />
<line x1="457.3" y1="1402.45" x2="446.7" y2="1402.45" stroke="#000" stroke-width="1.5" />
<path d="M111.93 1694.6L113.57 1631.75M115.38 1622.05L119.82 1609.64M122.7 1609.79L127.9 1630.82M129.41 1630.68L131.49 1597.11M132.55 1587.17L139.05 1544.59M140.17 1544.63L147.23 1638.92M147.97 1638.92L155.23 1542M156.28 1541.97L162.52 1587.59M164.3 1597.42L170.3 1624.09M173.42 1633.54L177.18 1642.05M179.67 1641.64L187.03 1563.3M188.58 1563.21L194.02 1587.74M220.84 1587.78L227.36 1562.24M232.08 1553.8L233.52 1552.32M238.18 1553.59L243.82 1576.73M246.01 1576.69L252.69 1544.21M254.54 1544.24L261.06 1582.77M263.31 1582.9L269.39 1562.19M272.87 1552.84L276.93 1543.94M288.9 1541.7L296.3 1587.69M306.56 1597.55L313.74 1638.64M315.08 1638.59L323.32 1553.45M324.2 1553.46L332.3 1654.71M334.05 1654.88L339.95 1633.95M359.66 1621.75L365.74 1598.31M367.62 1598.44L375.18 1659.4M376.29 1659.39L384.01 1580.62M396.75 1572.27L399.35 1569.25M403.37 1570.4L410.43 1615.7M412.68 1625.42L418.72 1644.9M430.75 1642.06L435.65 1631.15" fill="none" stroke="#d41818" stroke-width="1.9" stroke-linecap="butt"/>
<path d="M107 1694.8L116.6 1704.4M107 1704.4L116.6 1694.8M108.9 1621.96L118.5 1631.56M108.9 1631.56L118.5 1621.96M116.7 1600.14L126.3 1609.74M116.7 1609.74L126.3 1600.14M124.3 1630.87L133.9 1640.47M124.3 1640.47L133.9 1630.87M127 1587.32L136.6 1596.92M127 1596.92L136.6 1587.32M135 1534.85L144.6 1544.45M135 1544.45L144.6 1534.85M142.8 1639.11L152.4 1648.71M142.8 1648.71L152.4 1639.11M150.8 1532.22L160.4 1541.82M150.8 1541.82L160.4 1532.22M158.4 1587.74L168 1597.34M158.4 1597.34L168 1587.74M166.6 1624.16L176.2 1633.76M166.6 1633.76L176.2 1624.16M174.4 1641.82L184 1651.42M174.4 1651.42L184 1641.82M182.7 1553.53L192.3 1563.13M182.7 1563.13L192.3 1553.53M190.3 1587.83L199.9 1597.43M190.3 1597.43L199.9 1587.83M198.4 1587.83L208 1597.43M198.4 1597.43L208 1587.83M206.6 1587.83L216.2 1597.43M206.6 1597.43L216.2 1587.83M214.8 1587.83L224.4 1597.43M214.8 1597.43L224.4 1587.83M223.8 1552.59L233.4 1562.19M223.8 1562.19L233.4 1552.59M232.2 1543.93L241.8 1553.53M232.2 1553.53L241.8 1543.93M240.2 1576.79L249.8 1586.39M240.2 1586.39L249.8 1576.79M248.9 1534.51L258.5 1544.11M248.9 1544.11L258.5 1534.51M257.1 1582.9L266.7 1592.5M257.1 1592.5L266.7 1582.9M266 1552.59L275.6 1562.19M266 1562.19L275.6 1552.59M274.2 1534.59L283.8 1544.19M274.2 1544.19L283.8 1534.59M283.3 1531.96L292.9 1541.56M283.3 1541.56L292.9 1531.96M292.3 1587.83L301.9 1597.43M292.3 1597.43L301.9 1587.83M300.9 1587.83L310.5 1597.43M300.9 1597.43L310.5 1587.83M309.8 1638.77L319.4 1648.37M309.8 1648.37L319.4 1638.77M319 1543.68L328.6 1553.28M319 1553.28L328.6 1543.68M327.9 1654.9L337.5 1664.5M327.9 1664.5L337.5 1654.9M336.5 1624.33L346.1 1633.93M336.5 1633.93L346.1 1624.33M345.1 1621.19L354.7 1630.79M345.1 1630.79L354.7 1621.19M353.6 1621.79L363.2 1631.39M353.6 1631.39L363.2 1621.79M362.2 1588.67L371.8 1598.27M362.2 1598.27L371.8 1588.67M371 1659.57L380.6 1669.17M371 1669.17L380.6 1659.57M379.7 1570.85L389.3 1580.45M379.7 1580.45L389.3 1570.85M388.7 1571.27L398.3 1580.87M388.7 1580.87L398.3 1571.27M397.8 1560.66L407.4 1570.26M397.8 1570.26L407.4 1560.66M406.4 1615.84L416 1625.44M406.4 1625.44L416 1615.84M415.4 1644.88L425 1654.48M415.4 1654.48L425 1644.88M423.9 1641.82L433.5 1651.42M423.9 1651.42L433.5 1641.82M432.9 1621.79L442.5 1631.39M432.9 1631.39L442.5 1621.79" fill="none" stroke="#e23c3c" stroke-width="1.05"/>
<rect x="105.6" y="1396.5" width="351.7" height="351.2" fill="none" stroke="#000" stroke-width="1.6"/>
<text x="99.3" y="1749.95" font-size="24" text-anchor="end" font-weight="normal" >−0.05</text>
<text x="99.3" y="1707.5" font-size="24" text-anchor="end" font-weight="normal" >0.00</text>
<text x="99.3" y="1665.05" font-size="24" text-anchor="end" font-weight="normal" >0.05</text>
<text x="99.3" y="1622.6" font-size="24" text-anchor="end" font-weight="normal" >0.10</text>
<text x="99.3" y="1580.15" font-size="24" text-anchor="end" font-weight="normal" >0.15</text>
<text x="99.3" y="1537.7" font-size="24" text-anchor="end" font-weight="normal" >0.20</text>
<text x="99.3" y="1495.25" font-size="24" text-anchor="end" font-weight="normal" >0.25</text>
<text x="99.3" y="1452.8" font-size="24" text-anchor="end" font-weight="normal" >0.30</text>
<text x="99.3" y="1410.35" font-size="24" text-anchor="end" font-weight="normal" >0.35</text>
<text x="111" y="1773.4" font-size="24" text-anchor="middle" font-weight="normal" >0.0</text>
<text x="159.6" y="1773.4" font-size="24" text-anchor="middle" font-weight="normal" >0.2</text>
<text x="208.2" y="1773.4" font-size="24" text-anchor="middle" font-weight="normal" >0.4</text>
<text x="256.8" y="1773.4" font-size="24" text-anchor="middle" font-weight="normal" >0.6</text>
<text x="305.4" y="1773.4" font-size="24" text-anchor="middle" font-weight="normal" >0.8</text>
<text x="354" y="1773.4" font-size="24" text-anchor="middle" font-weight="normal" >1.0</text>
<text x="402.6" y="1773.4" font-size="24" text-anchor="middle" font-weight="normal" >1.2</text>
<text x="451.2" y="1773.4" font-size="24" text-anchor="middle" font-weight="normal" >1.4</text>
<text x="282.2" y="1806.2" font-size="24.4" text-anchor="middle" font-weight="normal" >Time (s)</text>
<text transform="translate(21.6,1576.2) rotate(-90)" font-size="24.3" text-anchor="middle">Δ Displacement (mm)</text>
<text x="0.3" y="1390.7" font-size="31" text-anchor="start" font-weight="bold" >e</text>
<line x1="591.2" y1="1748" x2="591.2" y2="1737.4" stroke="#000" stroke-width="1.5" />
<line x1="591.2" y1="1406.4" x2="591.2" y2="1417" stroke="#000" stroke-width="1.5" />
<line x1="658.9" y1="1748" x2="658.9" y2="1737.4" stroke="#000" stroke-width="1.5" />
<line x1="658.9" y1="1406.4" x2="658.9" y2="1417" stroke="#000" stroke-width="1.5" />
<line x1="726.6" y1="1748" x2="726.6" y2="1737.4" stroke="#000" stroke-width="1.5" />
<line x1="726.6" y1="1406.4" x2="726.6" y2="1417" stroke="#000" stroke-width="1.5" />
<line x1="794.3" y1="1748" x2="794.3" y2="1737.4" stroke="#000" stroke-width="1.5" />
<line x1="794.3" y1="1406.4" x2="794.3" y2="1417" stroke="#000" stroke-width="1.5" />
<line x1="862" y1="1748" x2="862" y2="1737.4" stroke="#000" stroke-width="1.5" />
<line x1="862" y1="1406.4" x2="862" y2="1417" stroke="#000" stroke-width="1.5" />
<line x1="929.7" y1="1748" x2="929.7" y2="1737.4" stroke="#000" stroke-width="1.5" />
<line x1="929.7" y1="1406.4" x2="929.7" y2="1417" stroke="#000" stroke-width="1.5" />
<line x1="589.2" y1="1746.4" x2="599.8" y2="1746.4" stroke="#000" stroke-width="1.5" />
<line x1="930" y1="1746.4" x2="919.4" y2="1746.4" stroke="#000" stroke-width="1.5" />
<line x1="589.2" y1="1690.07" x2="599.8" y2="1690.07" stroke="#000" stroke-width="1.5" />
<line x1="930" y1="1690.07" x2="919.4" y2="1690.07" stroke="#000" stroke-width="1.5" />
<line x1="589.2" y1="1633.74" x2="599.8" y2="1633.74" stroke="#000" stroke-width="1.5" />
<line x1="930" y1="1633.74" x2="919.4" y2="1633.74" stroke="#000" stroke-width="1.5" />
<line x1="589.2" y1="1577.41" x2="599.8" y2="1577.41" stroke="#000" stroke-width="1.5" />
<line x1="930" y1="1577.41" x2="919.4" y2="1577.41" stroke="#000" stroke-width="1.5" />
<line x1="589.2" y1="1521.08" x2="599.8" y2="1521.08" stroke="#000" stroke-width="1.5" />
<line x1="930" y1="1521.08" x2="919.4" y2="1521.08" stroke="#000" stroke-width="1.5" />
<line x1="589.2" y1="1464.75" x2="599.8" y2="1464.75" stroke="#000" stroke-width="1.5" />
<line x1="930" y1="1464.75" x2="919.4" y2="1464.75" stroke="#000" stroke-width="1.5" />
<line x1="589.2" y1="1408.42" x2="599.8" y2="1408.42" stroke="#000" stroke-width="1.5" />
<line x1="930" y1="1408.42" x2="919.4" y2="1408.42" stroke="#000" stroke-width="1.5" />
<path d="M658.9 1746.2V1720.41H665.67V1746.2M685.98 1746.2V1692.91H692.75V1746.2M692.75 1746.2V1720.41H699.52V1746.2M699.52 1746.2V1637.93H706.29V1746.2M706.29 1746.2V1720.41H713.06V1746.2M713.06 1746.2V1582.94H719.83V1746.2M719.83 1746.2V1720.41H726.6V1746.2M733.37 1746.2V1720.41H740.14V1746.2M740.14 1746.2V1500.47H746.91V1746.2M746.91 1746.2V1692.91H753.68V1746.2M753.68 1746.2V1692.91H760.45V1746.2M760.45 1746.2V1720.41H767.22V1746.2M767.22 1746.2V1665.42H773.99V1746.2M773.99 1746.2V1692.91H780.76V1746.2M780.76 1746.2V1665.42H787.53V1746.2M787.53 1746.2V1692.91H794.3V1746.2" fill="none" stroke="#e32222" stroke-width="1.6"/>
<line x1="658.9" y1="1746.2" x2="929.7" y2="1746.2" stroke="#e32222" stroke-width="1.6" />
<rect x="589.2" y="1406.4" width="340.8" height="341.6" fill="none" stroke="#000" stroke-width="1.6"/>
<text x="582.4" y="1754.3" font-size="24" text-anchor="end" font-weight="normal" >0.00</text>
<text x="582.4" y="1697.97" font-size="24" text-anchor="end" font-weight="normal" >0.05</text>
<text x="582.4" y="1641.64" font-size="24" text-anchor="end" font-weight="normal" >0.10</text>
<text x="582.4" y="1585.31" font-size="24" text-anchor="end" font-weight="normal" >0.15</text>
<text x="582.4" y="1528.98" font-size="24" text-anchor="end" font-weight="normal" >0.20</text>
<text x="582.4" y="1472.65" font-size="24" text-anchor="end" font-weight="normal" >0.25</text>
<text x="582.4" y="1416.32" font-size="24" text-anchor="end" font-weight="normal" >0.30</text>
<text x="591.2" y="1773.7" font-size="24" text-anchor="middle" font-weight="normal" >−0.1</text>
<text x="658.9" y="1773.7" font-size="24" text-anchor="middle" font-weight="normal" >0.0</text>
<text x="726.6" y="1773.7" font-size="24" text-anchor="middle" font-weight="normal" >0.1</text>
<text x="794.3" y="1773.7" font-size="24" text-anchor="middle" font-weight="normal" >0.2</text>
<text x="862" y="1773.7" font-size="24" text-anchor="middle" font-weight="normal" >0.3</text>
<text x="929.7" y="1773.7" font-size="24" text-anchor="middle" font-weight="normal" >0.4</text>
<text x="761.2" y="1807.1" font-size="24.2" text-anchor="middle" font-weight="normal" >Δ Displacement (mm)</text>
<text transform="translate(516.9,1575.1) rotate(-90)" font-size="24.3" text-anchor="middle">Frequency</text>
<text x="686.3" y="1454.3" font-size="24" text-anchor="start">300 mW cm<tspan font-size="16" dy="-8.5">–2</tspan></text>
<text x="504.3" y="1391.2" font-size="31" text-anchor="start" font-weight="bold" >f</text>
</svg></body></html>
